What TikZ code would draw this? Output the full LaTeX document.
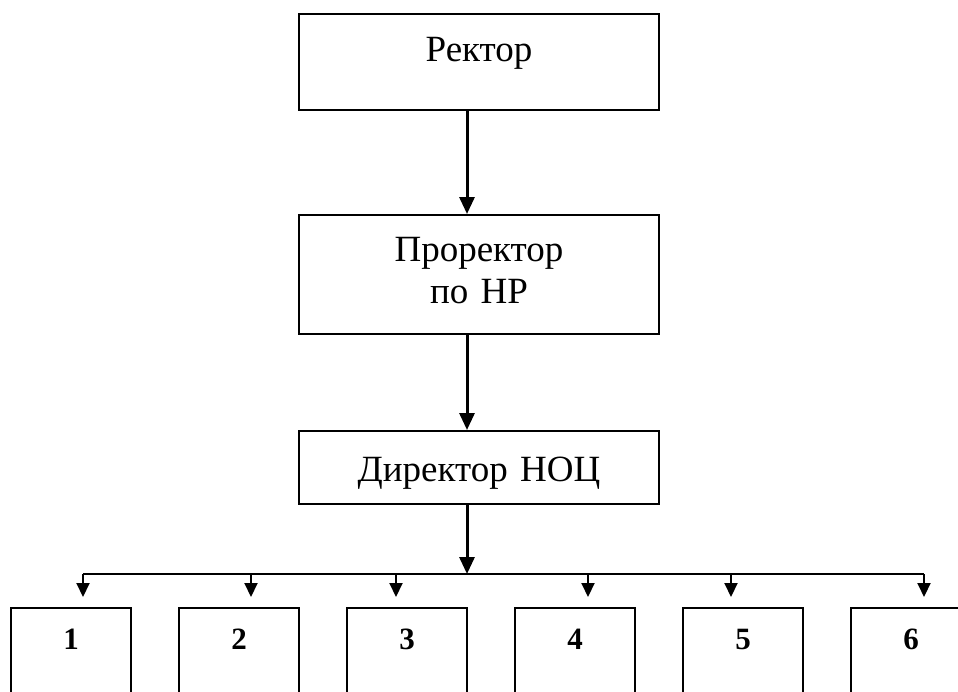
\documentclass[tikz,border=0pt]{standalone}
\usepackage{fontspec}
\setmainfont{Liberation Serif}
\usetikzlibrary{arrows.meta}

\begin{document}
\begin{tikzpicture}[x=0.5pt,y=-0.5pt]
            \clip (0,0) rectangle (958,691);
            \begin{scope}[every node/.style={rectangle,draw=black,line width=1pt,anchor=north,inner sep=0pt,text width=180pt,align=center,font=\fontsize{18.5}{21}\selectfont}]
                \node[text height=23.5pt,text depth=24.5pt] (rector) at (479,13) {Ректор};
                \node[text height=23pt,text depth=36.5pt] (prorector) at (479,214) {Проректор\\по НР};
                \node[text height=25pt,text depth=11.5pt] (director) at (479,430) {Директор НОЦ};
            \end{scope}
            \begin{scope}[every node/.style={rectangle,draw=black,line width=1pt,anchor=north,inner sep=0pt,text width=60pt,align=center,text height=20.5pt,text depth=60pt,font=\fontsize{15.5}{18}\bfseries}]
                \node (u1) at (71,607) {1};
                \node (u2) at (239,607) {2};
                \node (u3) at (407,607) {3};
                \node (u4) at (575,607) {4};
                \node (u5) at (743,607) {5};
                \node (u6) at (911,607) {6};
            \end{scope}
            \coordinate (spine) at (467,0);
            \coordinate (bus) at (467,574);
            \coordinate (t1) at (83,574);
            \coordinate (t2) at (251,574);
            \coordinate (t3) at (396,574);
            \coordinate (t4) at (588,574);
            \coordinate (t5) at (731,574);
            \coordinate (t6) at (924,574);
            \draw[line width=1.5pt,-{Triangle[length=8.5pt,width=7.5pt]}] (rector.south -| spine) -- (prorector.north -| spine);
            \draw[line width=1.5pt,-{Triangle[length=8.5pt,width=7.5pt]}] (prorector.south -| spine) -- (director.north -| spine);
            \draw[line width=1.5pt,-{Triangle[length=8.5pt,width=7.5pt]}] (director.south -| spine) -- (bus);
            \draw[line width=1pt] (t1) -- (t6);
            \draw[line width=1pt,shorten >=5pt,-{Triangle[length=7pt,width=6.5pt]}] (t1) -- (t1 |- u1.north);
            \draw[line width=1pt,shorten >=5pt,-{Triangle[length=7pt,width=6.5pt]}] (t2) -- (t2 |- u2.north);
            \draw[line width=1pt,shorten >=5pt,-{Triangle[length=7pt,width=6.5pt]}] (t3) -- (t3 |- u3.north);
            \draw[line width=1pt,shorten >=5pt,-{Triangle[length=7pt,width=6.5pt]}] (t4) -- (t4 |- u4.north);
            \draw[line width=1pt,shorten >=5pt,-{Triangle[length=7pt,width=6.5pt]}] (t5) -- (t5 |- u5.north);
            \draw[line width=1pt,shorten >=5pt,-{Triangle[length=7pt,width=6.5pt]}] (t6) -- (t6 |- u6.north);
        \end{tikzpicture}
\end{document}
